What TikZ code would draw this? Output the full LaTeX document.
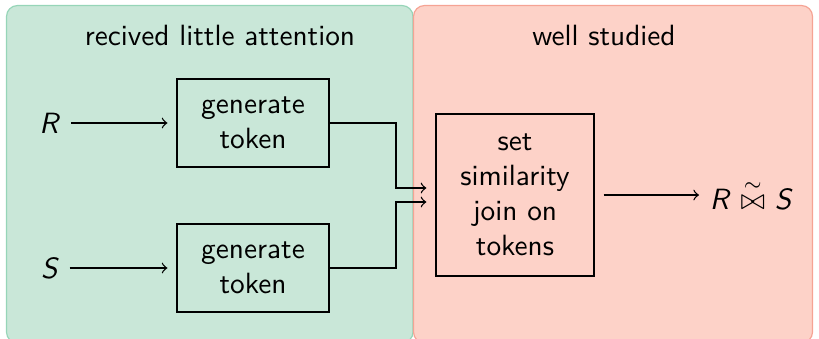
\documentclass[tikz,border=0pt]{standalone}
\usepackage{amsmath}
\definecolor{gfill}{RGB}{201,231,216}
\definecolor{gline}{RGB}{150,213,184}
\definecolor{rfill}{RGB}{253,210,200}
\definecolor{rline}{RGB}{245,163,148}
\begin{document}
\begin{tikzpicture}[x=0.3413pt,y=-0.3413pt,font=\sffamily,
  proc/.style={draw,line width=0.5pt,align=center,minimum width=51.9pt,minimum height=30pt,inner sep=0pt},
  lbl/.style={inner sep=3.5pt},
  conn/.style={->,line width=0.45pt}]
\useasboundingbox (0,0) rectangle (819,338);
\begin{scope}
\clip (0,0) rectangle (819,338);
\draw[fill=gfill,draw=gline,rounded corners=11*0.3413pt] (6.5,5.5) rectangle (413,343);
\draw[fill=rfill,draw=rline,rounded corners=11*0.3413pt] (413.5,5.5) rectangle (812.5,343);
\end{scope}
\node[anchor=base] (t1) at (220,45) {recived little attention};
\node[anchor=base] (t2) at (604,45) {well studied};
\node[lbl] (R) at (50,123) {\textit{R}};
\node[lbl] (S) at (50,268) {\textit{S}};
\node[proc] (g1) at (253,123) {generate\\token};
\node[proc] (g2) at (253,268) {generate\\token};
\node[proc,minimum width=54pt,minimum height=55.3pt] (j) at (515,195) {set\\similarity\\join on\\tokens};
\node[lbl,anchor=west] (res) at (699,195) {\textit{R} $\stackrel{\sim}{\bowtie}$ \textit{S}};
\coordinate (m1) at (396,188);
\coordinate (m2) at (396,202);
\draw[conn,shorten >=3pt] (R) -- (g1);
\draw[conn,shorten >=3pt] (S) -- (g2);
\draw[conn,shorten >=3pt] (g1.east) -| (m1) -- (j.west |- m1);
\draw[conn,shorten >=3pt] (g2.east) -| (m2) -- (j.west |- m2);
\draw[conn,shorten <=3pt] (j) -- (res);
\end{tikzpicture}
\end{document}
